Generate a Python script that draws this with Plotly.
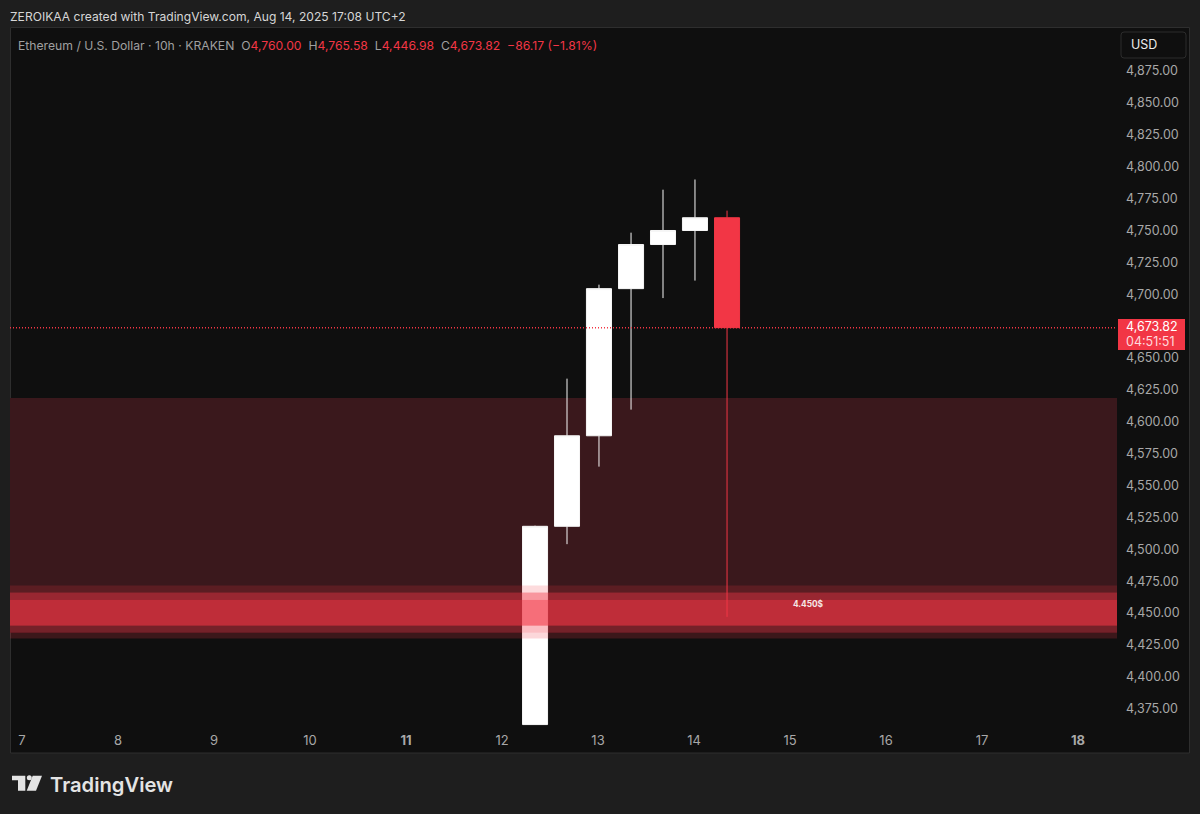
import plotly.graph_objects as go

W, H = 1200, 814
L, R, T, B = 10, 1117, 27, 753

# candles, x is day of month
candle_x = [12.344, 12.677, 13.01, 13.344, 13.677, 14.01, 14.344]
opens = [4362.5, 4518.0, 4589.0, 4704.4, 4739.0, 4750.0, 4760.0]
highs = [4518.5, 4633.8, 4707.5, 4748.3, 4782.0, 4790.0, 4765.58]
lows = [4362.5, 4504.0, 4564.8, 4609.5, 4697.0, 4710.7, 4446.98]
closes = [4518.0, 4589.0, 4704.4, 4739.0, 4750.0, 4760.0, 4673.82]
last_price = 4673.82

price_ticks = [4875, 4850, 4825, 4800, 4775, 4750, 4725, 4700, 4650, 4625, 4600,
               4575, 4550, 4525, 4500, 4475, 4450, 4425, 4400, 4375]
day_ticks = [7, 8, 9, 10, 11, 12, 13, 14, 15, 16, 17, 18]
day_labels = ["7", "8", "9", "10", "<b>11</b>", "12", "13", "14", "15", "16", "17", "<b>18</b>"]

# zone behind the candles, then the bands on top of them
zone_low = 4434.6
zone_high = 4618.6
band_lows = [4466.0, 4460.5, 4440.0, 4434.6, 4430.0]
band_highs = [4471.5, 4466.0, 4460.5, 4440.0, 4434.6]
band_alphas = [0.18, 0.52, 0.72, 0.32, 0.2]

BG = "#1e1e1e"
PANEL = "#0f0f0f"
RED = "#f23645"
GREY = "#a8a8a8"


def px(x):
    return (x - L) / (R - L)


def py(y):
    return (B - y) / (B - T)


fig = go.Figure()
fig.add_trace(go.Candlestick(
    x=candle_x, open=opens, high=highs, low=lows, close=closes,
    increasing=dict(fillcolor="#ffffff", line=dict(color="#f6f6f6", width=1)),
    decreasing=dict(fillcolor=RED, line=dict(color=RED, width=1)),
    whiskerwidth=0, hoverinfo="skip",
))

shapes = [
    # rest of the panel under the price scale
    dict(type="rect", xref="paper", yref="paper", x0=px(10.5), x1=px(1189.5), y0=py(753), y1=py(27.5),
         fillcolor=PANEL, line=dict(color="#2e2e2e", width=1), layer="below"),
    dict(type="rect", xref="paper", yref="y", x0=0, x1=1, y0=zone_low, y1=zone_high,
         fillcolor="#3a181c", line_width=0, layer="below"),
    dict(type="line", xref="paper", yref="y", x0=0, x1=1, y0=last_price, y1=last_price,
         line=dict(color=RED, width=1.5, dash="1px,2px"), layer="above"),
]
for lo, hi, a in zip(band_lows, band_highs, band_alphas):
    shapes.append(dict(type="rect", xref="paper", yref="y", x0=0, x1=1, y0=lo, y1=hi,
                       fillcolor=f"rgba(242,54,69,{a})", line_width=0, layer="above"))

# price label and currency box on the scale
shapes.append(dict(type="rect", xref="paper", yref="paper", x0=px(1118), x1=px(1185), y0=py(350), y1=py(319),
                   fillcolor=RED, line_width=0, layer="above"))
shapes.append(dict(type="path", xref="paper", yref="paper", layer="above", fillcolor=PANEL,
                   line=dict(color="#2c2c2c", width=1),
                   path=f"M{px(1124)},{py(32)} L{px(1183)},{py(32)} Q{px(1186)},{py(32)} {px(1186)},{py(35)} "
                        f"L{px(1186)},{py(55)} Q{px(1186)},{py(58)} {px(1183)},{py(58)} "
                        f"L{px(1124)},{py(58)} Q{px(1121)},{py(58)} {px(1121)},{py(55)} "
                        f"L{px(1121)},{py(35)} Q{px(1121)},{py(32)} {px(1124)},{py(32)} Z"))

# TradingView logo
logo = "#e4e4e4"
shapes.append(dict(type="path", xref="paper", yref="paper", fillcolor=logo, line_width=0,
                   path=f"M{px(12)},{py(775.7)} L{px(25.3)},{py(775.7)} L{px(25.3)},{py(790.7)} L{px(18)},{py(790.7)} "
                        f"L{px(18)},{py(780.3)} L{px(12)},{py(780.3)} Z"))
shapes.append(dict(type="circle", xref="paper", yref="paper", fillcolor=logo, line_width=0,
                   x0=px(26.8), x1=px(31.8), y0=py(780.2), y1=py(775.2)))
shapes.append(dict(type="path", xref="paper", yref="paper", fillcolor=logo, line_width=0,
                   path=f"M{px(32.7)},{py(775.7)} L{px(42)},{py(775.7)} L{px(36)},{py(790.7)} L{px(26.7)},{py(790.7)} Z"))


def note(x, y, text, size, color, weight=None, anchor="left"):
    return dict(xref="paper", yref="paper", x=px(x), y=py(y), text=text, showarrow=False,
                xanchor=anchor, yanchor="middle", align="left",
                font=dict(family="Inter", size=size, color=color, weight=weight))


def val(s):
    return f'<span style="color:{RED}">{s}</span>'


legend = ("Ethereum / U.S. Dollar · 10h · KRAKEN  O" + val("4,760.00") + "  H" + val("4,765.58")
          + "  L" + val("4,446.98") + "  C" + val("4,673.82") + "  " + val("−86.17 (−1.81%)"))

annotations = [
    note(8, 17, "ZEROIKAA created with TradingView.com, Aug 14, 2025 17:08 UTC+2", 12.1, "#d6d6d6"),
    note(16, 45, legend, 12.2, "#a0a0a0"),
    note(1128.5, 44.5, "USD", 12.5, "#ececec"),
    note(1124, 327, "4,673.82", 12.5, "#ffffff"),
    note(1124, 341, "04:51:51", 12.5, "#ffd9dc"),
    note(808, 603.5, "4.450$", 8.3, "#f5e6e6", weight=700, anchor="center"),
    note(47.5, 784, "TradingView", 20.2, logo, weight=600),
]

fig.update_layout(
    width=W, height=H,
    margin=dict(l=L, r=W - R, t=T, b=H - B),
    paper_bgcolor=BG, plot_bgcolor=PANEL,
    showlegend=False, boxgap=0.12, boxgroupgap=0.11,
    shapes=shapes, annotations=annotations,
    font=dict(family="Inter", color=GREY),
    xaxis=dict(range=[6.875, 18.406], tickmode="array", tickvals=day_ticks, ticktext=day_labels,
               ticklabelposition="inside", ticklabelstandoff=2, showgrid=False, zeroline=False,
               showline=False, ticks="", rangeslider_visible=False, tickfont=dict(size=13, color=GREY)),
    yaxis=dict(range=[4340.2, 4909.6], side="right", tickmode="array", tickvals=price_ticks,
               tickformat=",.2f", ticklabelstandoff=8, showgrid=False, zeroline=False, showline=False,
               ticks="", tickfont=dict(size=12.5, color=GREY)),
)

fig.write_html("out.html", config={"displayModeBar": False},
               post_script="document.body.style.margin='0';document.body.style.background='#1e1e1e';document.body.style.overflow='hidden';")
